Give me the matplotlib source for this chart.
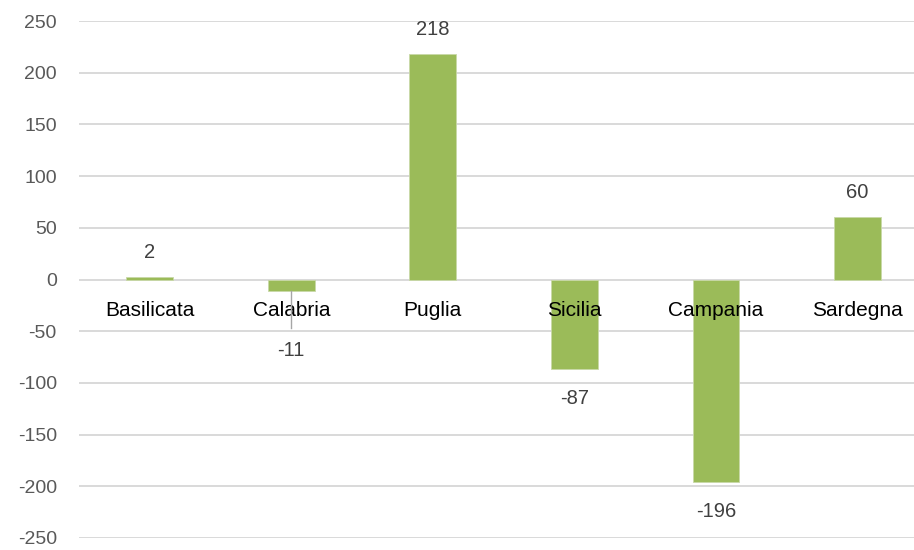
import matplotlib.pyplot as plt

regions = ["Basilicata", "Calabria", "Puglia", "Sicilia", "Campania", "Sardegna"]
values = [2, -11, 218, -87, -196, 60]
y_ticks = [-250, -200, -150, -100, -50, 0, 50, 100, 150, 200, 250]

plt.rcParams["font.family"] = ["Liberation Sans", "DejaVu Sans"]
plt.rcParams["axes.unicode_minus"] = False

fig = plt.figure(figsize=(9.14, 5.5), dpi=100)
ax = fig.add_axes([79 / 914, 12 / 550, 835 / 914, 517 / 550])

x = list(range(len(regions)))
ax.bar(x, values, width=0.33, color="#9BBB59", edgecolor="#C9D9A8", linewidth=0.6, zorder=3)

ax.set_xlim(-0.5, 5.4)
ax.set_ylim(-250, 250)
ax.set_yticks(y_ticks)
ax.set_xticks([])
ax.tick_params(axis="y", length=0, labelsize=14, labelcolor="#595959", pad=16)
ax.grid(axis="y", color="#D9D9D9", linewidth=1.4, zorder=0)
for s in ax.spines.values():
    s.set_visible(False)

# nomi delle regioni sull'asse zero
for i, name in enumerate(regions):
    ax.annotate(name, (i, 0), xytext=(0, -22.5), textcoords="offset points",
                ha="center", va="center", fontsize=15, color="black", zorder=4)

# etichette dei valori
for i, v in enumerate(values):
    if regions[i] == "Calabria":
        ax.plot([i, i], [v, -47], color="#A6A6A6", linewidth=1, zorder=4)
        ax.annotate(f"{v}", (i, -47), xytext=(0, -16), textcoords="offset points",
                    ha="center", va="center", fontsize=14.5, color="#404040")
        continue
    off = 18 if v >= 0 else -21
    ax.annotate(f"{v}", (i, v), xytext=(0, off), textcoords="offset points",
                ha="center", va="center", fontsize=14.5, color="#404040")

fig.savefig("out.png", dpi=100)
